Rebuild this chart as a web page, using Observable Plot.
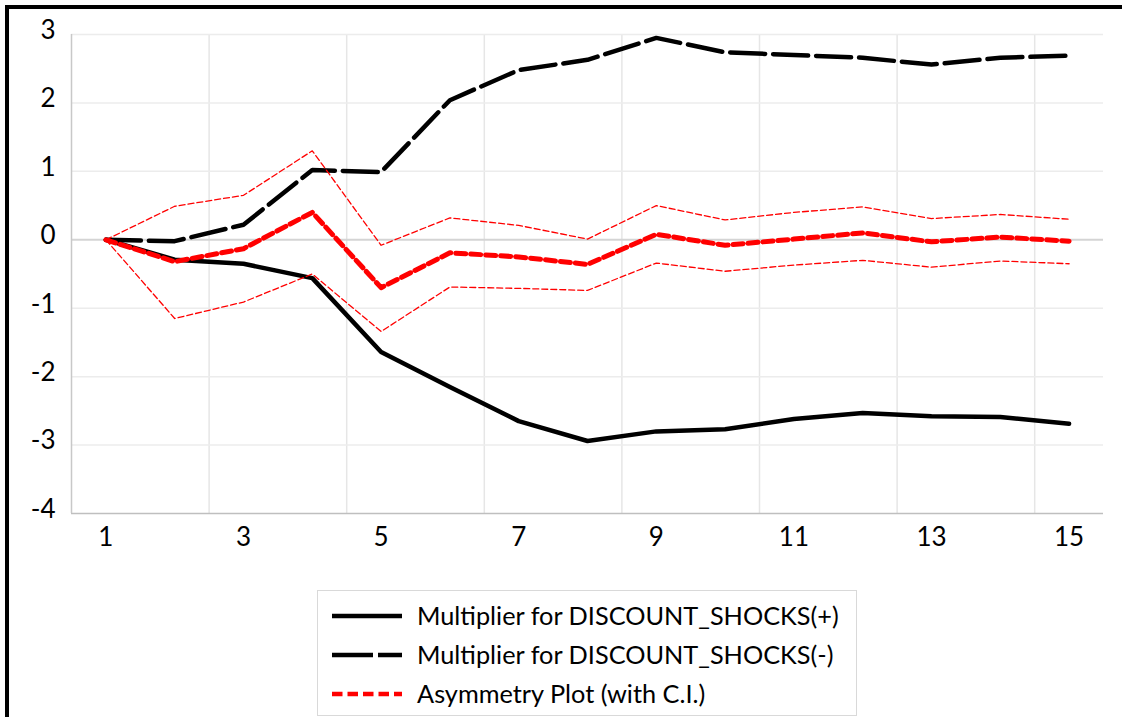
<!DOCTYPE html>
<html>
<head>
<meta charset="utf-8">
<script src="https://cdn.jsdelivr.net/npm/d3@7"></script>
<script src="https://cdn.jsdelivr.net/npm/@observablehq/plot@0.6"></script>
<style>
  html, body { margin: 0; padding: 0; background: #fff; width: 1122px; height: 717px; overflow: hidden; }
  #frame { position: absolute; left: 5px; top: 5px; width: 1300px; height: 900px; border-top: 4px solid #000; border-left: 4px solid #000; box-sizing: border-box; }
  #chart { position: absolute; left: 0; top: 0; }
  #legend { position: absolute; left: 317px; top: 590px; width: 540px; height: 126px; border: 1px solid #d9d9d9; box-sizing: border-box; background: #fff; }
  #legend svg { position: absolute; left: 0; top: 0; }
</style>
</head>
<body>
<div id="frame"></div>
<div id="chart"></div>
<div id="legend"></div>
<script>
// ---- data ----
const periods = [1, 2, 3, 4, 5, 6, 7, 8, 9, 10, 11, 12, 13, 14, 15];
const posMult = [0, -0.29, -0.35, -0.56, -1.64, -2.15, -2.65, -2.94, -2.80, -2.77, -2.62, -2.53, -2.58, -2.59, -2.69];
const negMult = [0, -0.02, 0.22, 1.02, 0.99, 2.04, 2.48, 2.63, 2.95, 2.74, 2.70, 2.66, 2.56, 2.66, 2.69];
const asymmetry = [0, -0.32, -0.13, 0.40, -0.70, -0.19, -0.25, -0.36, 0.08, -0.08, 0.01, 0.10, -0.03, 0.04, -0.02];
const ciUpper = [0, 0.49, 0.65, 1.30, -0.08, 0.32, 0.21, 0.01, 0.50, 0.29, 0.40, 0.48, 0.31, 0.37, 0.30];
const ciLower = [0, -1.15, -0.91, -0.50, -1.34, -0.69, -0.71, -0.74, -0.34, -0.46, -0.37, -0.30, -0.40, -0.31, -0.35];
const xTicks = [1, 3, 5, 7, 9, 11, 13, 15];
const yTicks = [-4, -3, -2, -1, 0, 1, 2, 3];
const xGrid = [2.5, 4.5, 6.5, 8.5, 10.5, 12.5, 14.5];
const yGrid = [-3, -2, -1, 1, 2, 3];
const legendLabels = [
  "Multiplier for DISCOUNT_SHOCKS(+)",
  "Multiplier for DISCOUNT_SHOCKS(-)",
  "Asymmetry Plot (with C.I.)"
];

const toRows = (arr) => periods.map((p, i) => ({period: p, value: arr[i]}));

const chart = Plot.plot({
  width: 1122,
  height: 560,
  marginLeft: 71,
  marginRight: 19,
  marginTop: 34,
  marginBottom: 47,
  style: {fontFamily: "Lato", fontSize: "26px", color: "#000", background: "transparent"},
  x: {domain: [0.5, 15.5], axis: null, label: null},
  y: {domain: [-4, 3], axis: null, label: null},
  marks: [
    Plot.ruleX(xGrid, {stroke: "#e6e6e6", strokeWidth: 1.5}),
    Plot.ruleY(yGrid, {stroke: "#ececec", strokeWidth: 1.5}),
    Plot.ruleY([0], {stroke: "#d4d4d4", strokeWidth: 2}),
    Plot.ruleY([-4], {stroke: "#bfbfbf", strokeWidth: 1.5}),
    Plot.ruleX([0.5], {stroke: "#c8c8c8", strokeWidth: 1.5}),
    Plot.axisX(xTicks, {anchor: "bottom", label: null, tickSize: 0, tickPadding: 14, tickFormat: d => String(d), fontSize: 26}),
    Plot.axisY(yTicks, {anchor: "left", label: null, tickSize: 0, tickPadding: 16, dy: -4, tickFormat: d => String(d), fontSize: 26}),
    Plot.line(toRows(posMult), {x: "period", y: "value", stroke: "#000", strokeWidth: 4.5, strokeLinejoin: "round"}),
    Plot.line(toRows(negMult), {x: "period", y: "value", stroke: "#000", strokeWidth: 4.5, strokeDasharray: "35,8", strokeLinejoin: "round"}),
    Plot.line(toRows(asymmetry), {x: "period", y: "value", stroke: "#ff0000", strokeWidth: 5, strokeDasharray: "10,5", strokeLinejoin: "round"}),
    Plot.line(toRows(ciUpper), {x: "period", y: "value", stroke: "#ff0000", strokeWidth: 1.3, strokeDasharray: "6,3", strokeLinejoin: "round"}),
    Plot.line(toRows(ciLower), {x: "period", y: "value", stroke: "#ff0000", strokeWidth: 1.3, strokeDasharray: "6,3", strokeLinejoin: "round"})
  ]
});
document.getElementById("chart").appendChild(chart);

// ---- legend ----
const legendStyles = [
  {stroke: "#000", dash: null, w: 4.5},
  {stroke: "#000", dash: "41,5", w: 4.5},
  {stroke: "#ff0000", dash: "10.5,5", w: 4.5}
];
const lg = d3.select("#legend").append("svg").attr("width", 540).attr("height", 126);
legendLabels.forEach((label, i) => {
  const cy = 25 + i * 39;
  const s = legendStyles[i];
  const ln = lg.append("line").attr("x1", 14).attr("x2", 84).attr("y1", cy).attr("y2", cy)
    .attr("stroke", s.stroke).attr("stroke-width", s.w);
  if (s.dash) ln.attr("stroke-dasharray", s.dash);
  lg.append("text").attr("x", 99).attr("y", cy + 8.5)
    .attr("font-family", "Lato").attr("font-size", 25.3).attr("fill", "#000")
    .text(label);
});
</script>
</body>
</html>
